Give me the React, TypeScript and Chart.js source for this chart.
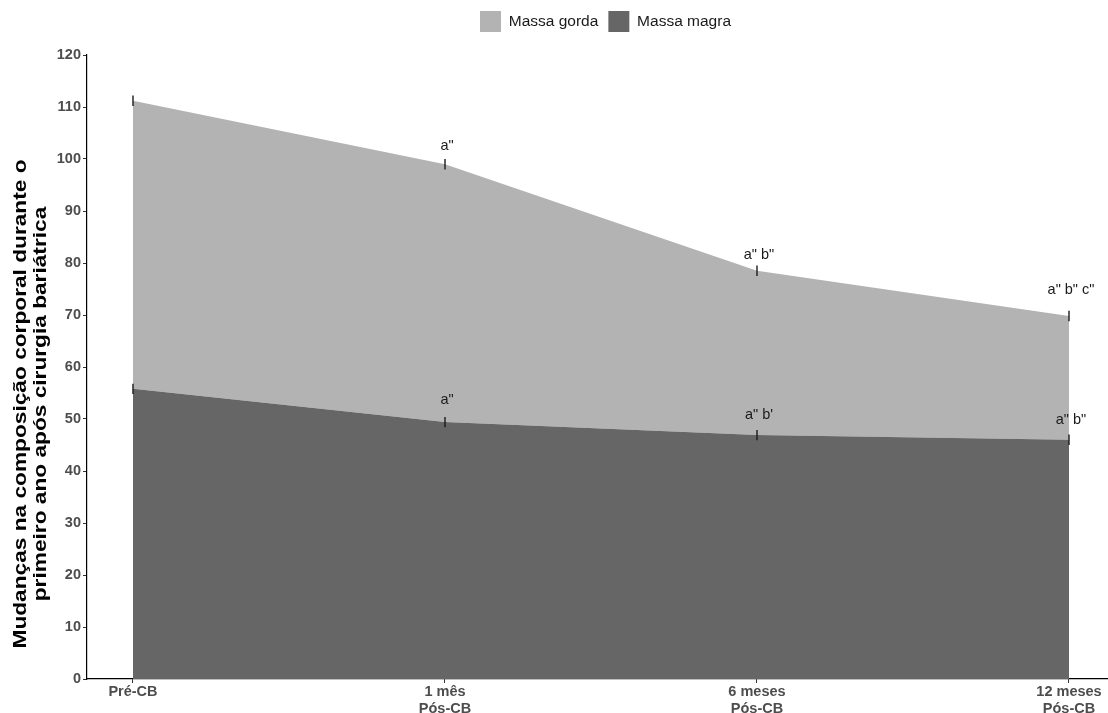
import React, { useEffect, useRef } from 'react';
import { Chart, registerables } from 'chart.js';

Chart.register(...registerables);

const categories: string[][] = [['Pré-CB'], ['1 mês', 'Pós-CB'], ['6 meses', 'Pós-CB'], ['12 meses', 'Pós-CB']];
const massaMagra = [55.8, 49.4, 46.9, 46.0];
const massaGorda = [55.4, 49.6, 31.6, 23.8];
const errMagra = [1, 1, 1, 1];
const errGorda = [1, 1, 1, 1];
const labelsGorda = ['', 'a"', 'a" b"', 'a" b" c"'];
const labelsGordaY = [0, 102.7, 81.8, 75.0];
const labelsMagra = ['', 'a"', 'a" b\'', 'a" b"'];
const labelsMagraY = [0, 53.8, 50.9, 50.0];
const yTitle = ['Mudanças na composição corporal durante o', 'primeiro ano após cirurgia bariátrica'];

const FONT = '"Liberation Sans", Arial, Helvetica, sans-serif';

const annotPlugin = {
  id: 'annot',
  beforeUpdate(chart: any) {
    const lg = chart.legend;
    if (lg && !lg._patched) {
      const orig = lg.fit.bind(lg);
      lg.fit = function () {
        orig();
        this.height = 54;
      };
      lg._patched = true;
    }
  },
  afterLayout(chart: any) {
    const lg = chart.legend;
    if (lg) {
      lg.left += 8;
      lg.right += 8;
    }
  },
  afterDatasetsDraw(chart: any) {
    const { ctx, scales } = chart;
    const x = scales.x;
    const y = scales.y;
    ctx.save();
    ctx.strokeStyle = '#1a1a1a';
    ctx.lineWidth = 1.4;
    categories.forEach((_, i) => {
      const px = x.getPixelForValue(i);
      const vals = [massaMagra[i], massaMagra[i] + massaGorda[i]];
      const errs = [errMagra[i], errGorda[i]];
      vals.forEach((v, k) => {
        ctx.beginPath();
        ctx.moveTo(px, y.getPixelForValue(v + errs[k]));
        ctx.lineTo(px, y.getPixelForValue(v - errs[k]));
        ctx.stroke();
      });
    });
    ctx.font = `14.5px ${FONT}`;
    ctx.fillStyle = '#1a1a1a';
    ctx.textAlign = 'center';
    ctx.textBaseline = 'alphabetic';
    categories.forEach((_, i) => {
      const px = x.getPixelForValue(i);
      if (labelsGorda[i]) ctx.fillText(labelsGorda[i], px + 2, y.getPixelForValue(labelsGordaY[i]) + 5);
      if (labelsMagra[i]) ctx.fillText(labelsMagra[i], px + 2, y.getPixelForValue(labelsMagraY[i]) + 5);
    });
    ctx.restore();
  },
  afterDraw(chart: any) {
    const { ctx } = chart;
    ctx.save();
    ctx.font = `bold 18px ${FONT}`;
    ctx.fillStyle = '#000000';
    ctx.textAlign = 'center';
    ctx.textBaseline = 'middle';
    const xs = [21, 41.5];
    yTitle.forEach((line, k) => {
      ctx.save();
      ctx.translate(xs[k], 404);
      ctx.rotate(-Math.PI / 2);
      ctx.scale(1.26, 1);
      ctx.fillText(line, 0, 0);
      ctx.restore();
    });
    ctx.restore();
  },
};

export default function App() {
  const ref = useRef<HTMLCanvasElement>(null);
  useEffect(() => {
    if (!ref.current) return;
    const chart = new Chart(ref.current, {
      type: 'line',
      data: {
        datasets: [
          {
            label: 'Massa magra',
            data: massaMagra.map((v, i) => ({ x: i, y: v })),
            backgroundColor: '#666666',
            borderColor: '#666666',
            borderWidth: 0,
            pointRadius: 0,
            fill: 'origin',
            tension: 0,
          },
          {
            label: 'Massa gorda',
            data: massaGorda.map((v, i) => ({ x: i, y: v })),
            backgroundColor: '#b3b3b3',
            borderColor: '#b3b3b3',
            borderWidth: 0,
            pointRadius: 0,
            fill: '-1',
            tension: 0,
          },
        ],
      },
      options: {
        animation: false,
        responsive: true,
        maintainAspectRatio: false,
        layout: { padding: { top: 1, left: 0, right: 0, bottom: 0 } },
        plugins: {
          tooltip: { enabled: false },
          legend: {
            position: 'top',
            fullSize: false,
            reverse: true,
            labels: {
              boxWidth: 21,
              boxHeight: 21,
              padding: 10,
              color: '#1a1a1a',
              font: { family: FONT, size: 15.5 },
            },
          },
        },
        scales: {
          x: {
            type: 'linear',
            min: -0.1474,
            max: 3.125,
            afterBuildTicks: (s: any) => {
              s.ticks = categories.map((_, i) => ({ value: i }));
            },
            afterFit: (s: any) => {
              s.height = 34;
              s.paddingLeft = 0;
              s.paddingRight = 0;
            },
            grid: { display: true, drawOnChartArea: false, drawTicks: true, tickLength: 4, color: '#333333' },
            border: { display: true, color: '#000000', width: 1.2 },
            ticks: {
              autoSkip: false,
              maxRotation: 0,
              padding: 0,
              color: '#4d4d4d',
              font: { family: FONT, size: 14.5, weight: 'bold', lineHeight: 1.2 },
              callback: (v: any) => categories[Math.round(Number(v))] ?? '',
            },
          },
          y: {
            stacked: true,
            min: 0,
            max: 120,
            afterFit: (s: any) => {
              s.width = 87;
            },
            grid: { display: true, drawOnChartArea: false, drawTicks: true, tickLength: 4, color: '#333333' },
            border: { display: true, color: '#000000', width: 1.2 },
            ticks: {
              stepSize: 10,
              padding: 2,
              color: '#4d4d4d',
              font: { family: FONT, size: 14.5, weight: 'bold' },
            },
            title: { display: false },
          },
        },
      },
      plugins: [annotPlugin],
    });
    return () => chart.destroy();
  }, []);
  return (
    <div style={{ position: 'fixed', left: 0, top: 0, width: 1108, height: 713, background: '#fff' }}>
      <canvas ref={ref} />
    </div>
  );
}
